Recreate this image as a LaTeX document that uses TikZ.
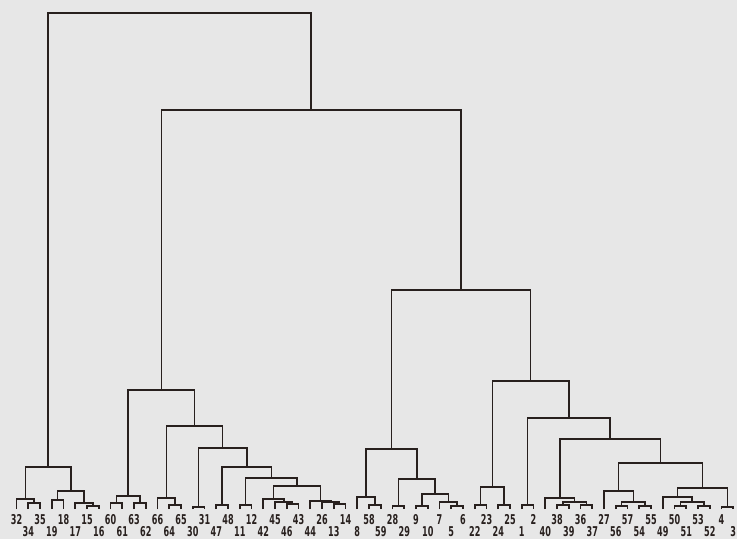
\documentclass[tikz,border=0pt]{standalone}
\usepackage{fontspec}
\setmainfont{DejaVu Sans}
\newfontfamily\labfont{DejaVu Sans}[FakeStretch=0.6]
\usetikzlibrary{calc}
\definecolor{paper}{RGB}{231,231,231}
\definecolor{ink}{RGB}{40,32,30}
\tikzset{
  tree/.style={draw=ink, line width=1.6pt},
  leaflab/.style={font=\labfont\bfseries\fontsize{13.5}{13.5}\selectfont, text=ink, inner sep=0pt}
}
\newcommand\joinnode[4]{%
  \path let \p1=($(#2)!0.5!(#3)$), \p2=(0,#4) in coordinate (#1) at (\x1,\y2);
  \draw[tree] (#2) |- (#1) -| (#3);
}
\begin{document}
\begin{tikzpicture}[x=1pt,y=-1pt]
\useasboundingbox (0,0) rectangle (737,539);
\fill[paper] (0,0) rectangle (737,539);
\foreach \lab [count=\i from 0] in {32,34,35,19,18,17,15,16,60,61,63,62,66,64,65,30,31,47,48,11,12,42,45,46,43,44,26,13,14,8,58,59,28,29,9,10,7,5,6,22,23,24,25,1,2,40,38,39,36,37,27,56,57,54,55,49,50,51,53,52,4,3} {
  \pgfmathsetmacro\lx{16.5+11.75*\i}
  \pgfmathsetmacro\ly{mod(\i,2)==0 ? 519.5 : 531.5}
  \coordinate (l\lab) at (\lx,509);
  \node[leaflab] (t\lab) at (\lx,\ly) {\lab};
}
% cluster A
\joinnode{a1}{l34}{l35}{503}
\joinnode{a2}{l32}{a1}{499}
\joinnode{a3}{l19}{l18}{500}
\joinnode{a4}{l15}{l16}{506}
\joinnode{a5}{l17}{a4}{503}
\joinnode{a6}{a3}{a5}{491}
\joinnode{A}{a2}{a6}{467}
% cluster B
\joinnode{b1}{l60}{l61}{503}
\joinnode{b2}{l63}{l62}{503}
\joinnode{b3}{b1}{b2}{496}
\joinnode{b4}{l64}{l65}{505}
\joinnode{b5}{l66}{b4}{498}
\joinnode{b6}{l30}{l31}{507}
\joinnode{b7}{l47}{l48}{505}
\joinnode{b8}{l11}{l12}{505}
\joinnode{b9}{l46}{l43}{504}
\joinnode{b10}{l45}{b9}{502}
\joinnode{b11}{l42}{b10}{499}
\joinnode{b12}{l13}{l14}{504}
\joinnode{b13}{l26}{b12}{502}
\joinnode{b14}{l44}{b13}{501}
\joinnode{b15}{b11}{b14}{486}
\joinnode{b16}{b8}{b15}{478}
\joinnode{b17}{b7}{b16}{467}
\joinnode{b18}{b6}{b17}{448}
\joinnode{b19}{b5}{b18}{426}
\joinnode{B}{b3}{b19}{390}
% cluster C
\joinnode{c1}{l58}{l59}{505}
\joinnode{c2}{l8}{c1}{497}
\joinnode{c3}{l28}{l29}{506}
\joinnode{c4}{l9}{l10}{506}
\joinnode{c5}{l5}{l6}{506}
\joinnode{c6}{l7}{c5}{502}
\joinnode{c7}{c4}{c6}{494}
\joinnode{c8}{c3}{c7}{479}
\joinnode{C}{c2}{c8}{449}
% cluster D
\joinnode{d1}{l22}{l23}{505}
\joinnode{d2}{l24}{l25}{505}
\joinnode{d3}{d1}{d2}{487}
\joinnode{d4}{l1}{l2}{505}
\joinnode{d5}{l38}{l39}{505}
\joinnode{d6}{l36}{l37}{505}
\joinnode{d7}{d5}{d6}{502}
\joinnode{d8}{l40}{d7}{498}
\joinnode{d9}{l56}{l57}{506}
\joinnode{d10}{l54}{l55}{506}
\joinnode{d11}{d9}{d10}{502}
\joinnode{d12}{l27}{d11}{491}
\joinnode{d13}{l50}{l51}{506}
\joinnode{d14}{l53}{l52}{506}
\joinnode{d15}{d13}{d14}{502}
\joinnode{d16}{l49}{d15}{497}
\joinnode{d17}{l4}{l3}{507}
\joinnode{d18}{d16}{d17}{488}
\joinnode{d19}{d12}{d18}{463}
\joinnode{d20}{d8}{d19}{439}
\joinnode{d21}{d4}{d20}{418}
\joinnode{D}{d3}{d21}{381}
% top levels
\joinnode{E}{C}{D}{290}
\joinnode{F}{B}{E}{110}
\joinnode{R}{A}{F}{13}
\end{tikzpicture}
\end{document}
